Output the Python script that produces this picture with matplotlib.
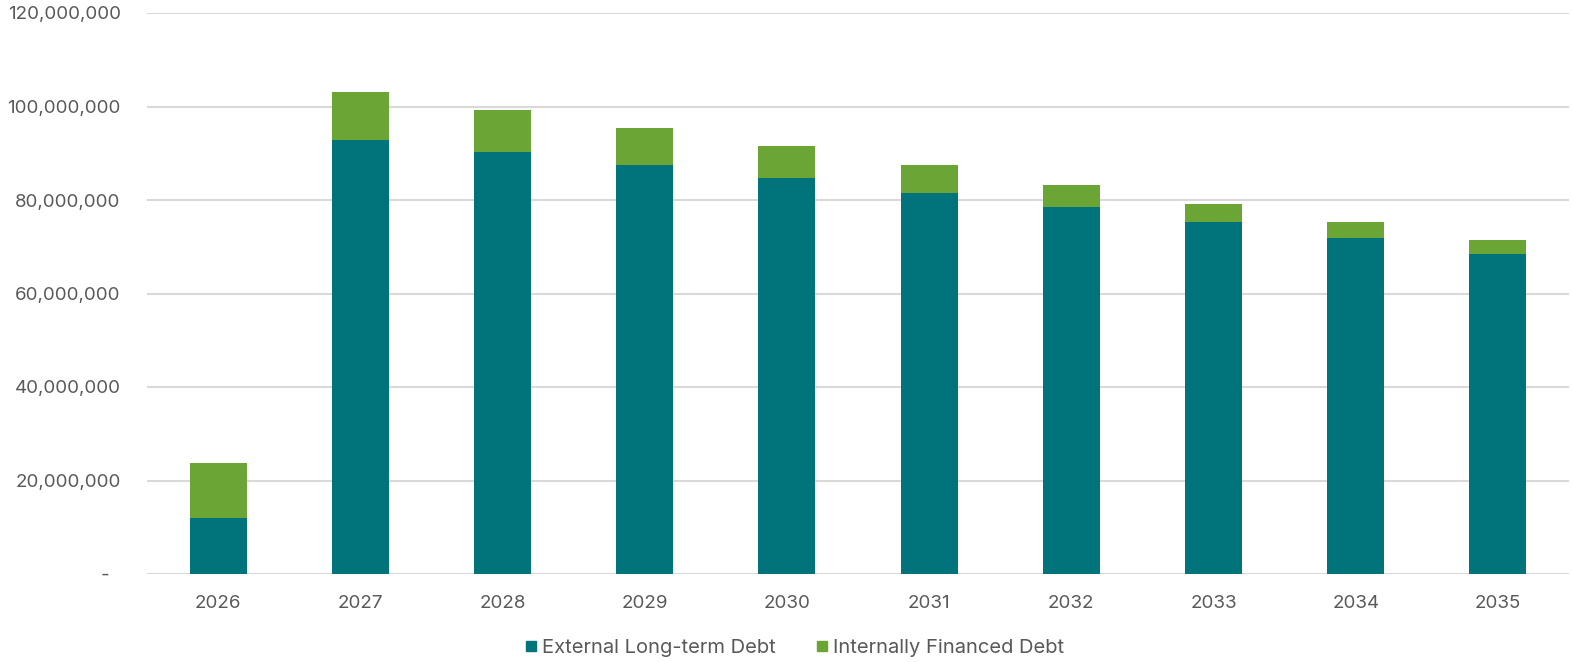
import matplotlib
matplotlib.use("Agg")
import matplotlib.pyplot as plt
from matplotlib.ticker import FuncFormatter
from matplotlib.lines import Line2D

years = ["2026", "2027", "2028", "2029", "2030", "2031", "2032", "2033", "2034", "2035"]
external = [11.9e6, 92.9e6, 90.2e6, 87.4e6, 84.6e6, 81.6e6, 78.5e6, 75.4e6, 71.9e6, 68.4e6]
internal_total = [23.7e6, 103.2e6, 99.2e6, 95.4e6, 91.5e6, 87.4e6, 83.3e6, 79.2e6, 75.3e6, 71.4e6]
internal = [t - e for t, e in zip(internal_total, external)]

teal = "#00737B"
green = "#6AA536"
text_col = "#595959"
grid_col = "#D9D9D9"

plt.rcParams['font.family'] = ['Inter', 'Liberation Sans', 'DejaVu Sans']
fs = 13.5
legend_fs = 14.5

fig = plt.figure(figsize=(15.72, 6.62), dpi=100)
ax = fig.add_axes([147/1572, 1 - 574/662, (1569-147)/1572, (574-13)/662])

x = list(range(len(years)))
ax.bar(x, external, width=0.4, color=teal, zorder=3, label="External Long-term Debt")
ax.bar(x, internal, width=0.4, bottom=external, color=green, zorder=3, label="Internally Financed Debt")

ax.set_xlim(-0.5, len(years) - 0.5)
ax.set_ylim(0, 120e6)
ax.set_yticks([i * 20e6 for i in range(7)])
ax.yaxis.set_major_formatter(FuncFormatter(lambda v, p: "-  " if v == 0 else f"{int(v):,}"))
ax.set_xticks(x)
ax.set_xticklabels(years)
ax.grid(axis='y', color=grid_col, linewidth=1.5, zorder=0)
for s in ax.spines.values():
    s.set_visible(False)
ax.tick_params(axis='y', length=0, pad=19, labelsize=fs, labelcolor=text_col)
ax.tick_params(axis='x', length=0, pad=15, labelsize=fs, labelcolor=text_col)

handles = [Line2D([], [], marker='s', linestyle='none', markersize=7.3, color=teal),
           Line2D([], [], marker='s', linestyle='none', markersize=7.3, color=green)]
fig.legend(handles, ["External Long-term Debt", "Internally Financed Debt"],
           loc='center', bbox_to_anchor=(794.5/1572, 1 - 648/662), ncol=2, frameon=False,
           fontsize=legend_fs, labelcolor=text_col, handlelength=0.6, handletextpad=0.25,
           columnspacing=2.0)

fig.savefig("out.png", dpi=100, facecolor="white")
